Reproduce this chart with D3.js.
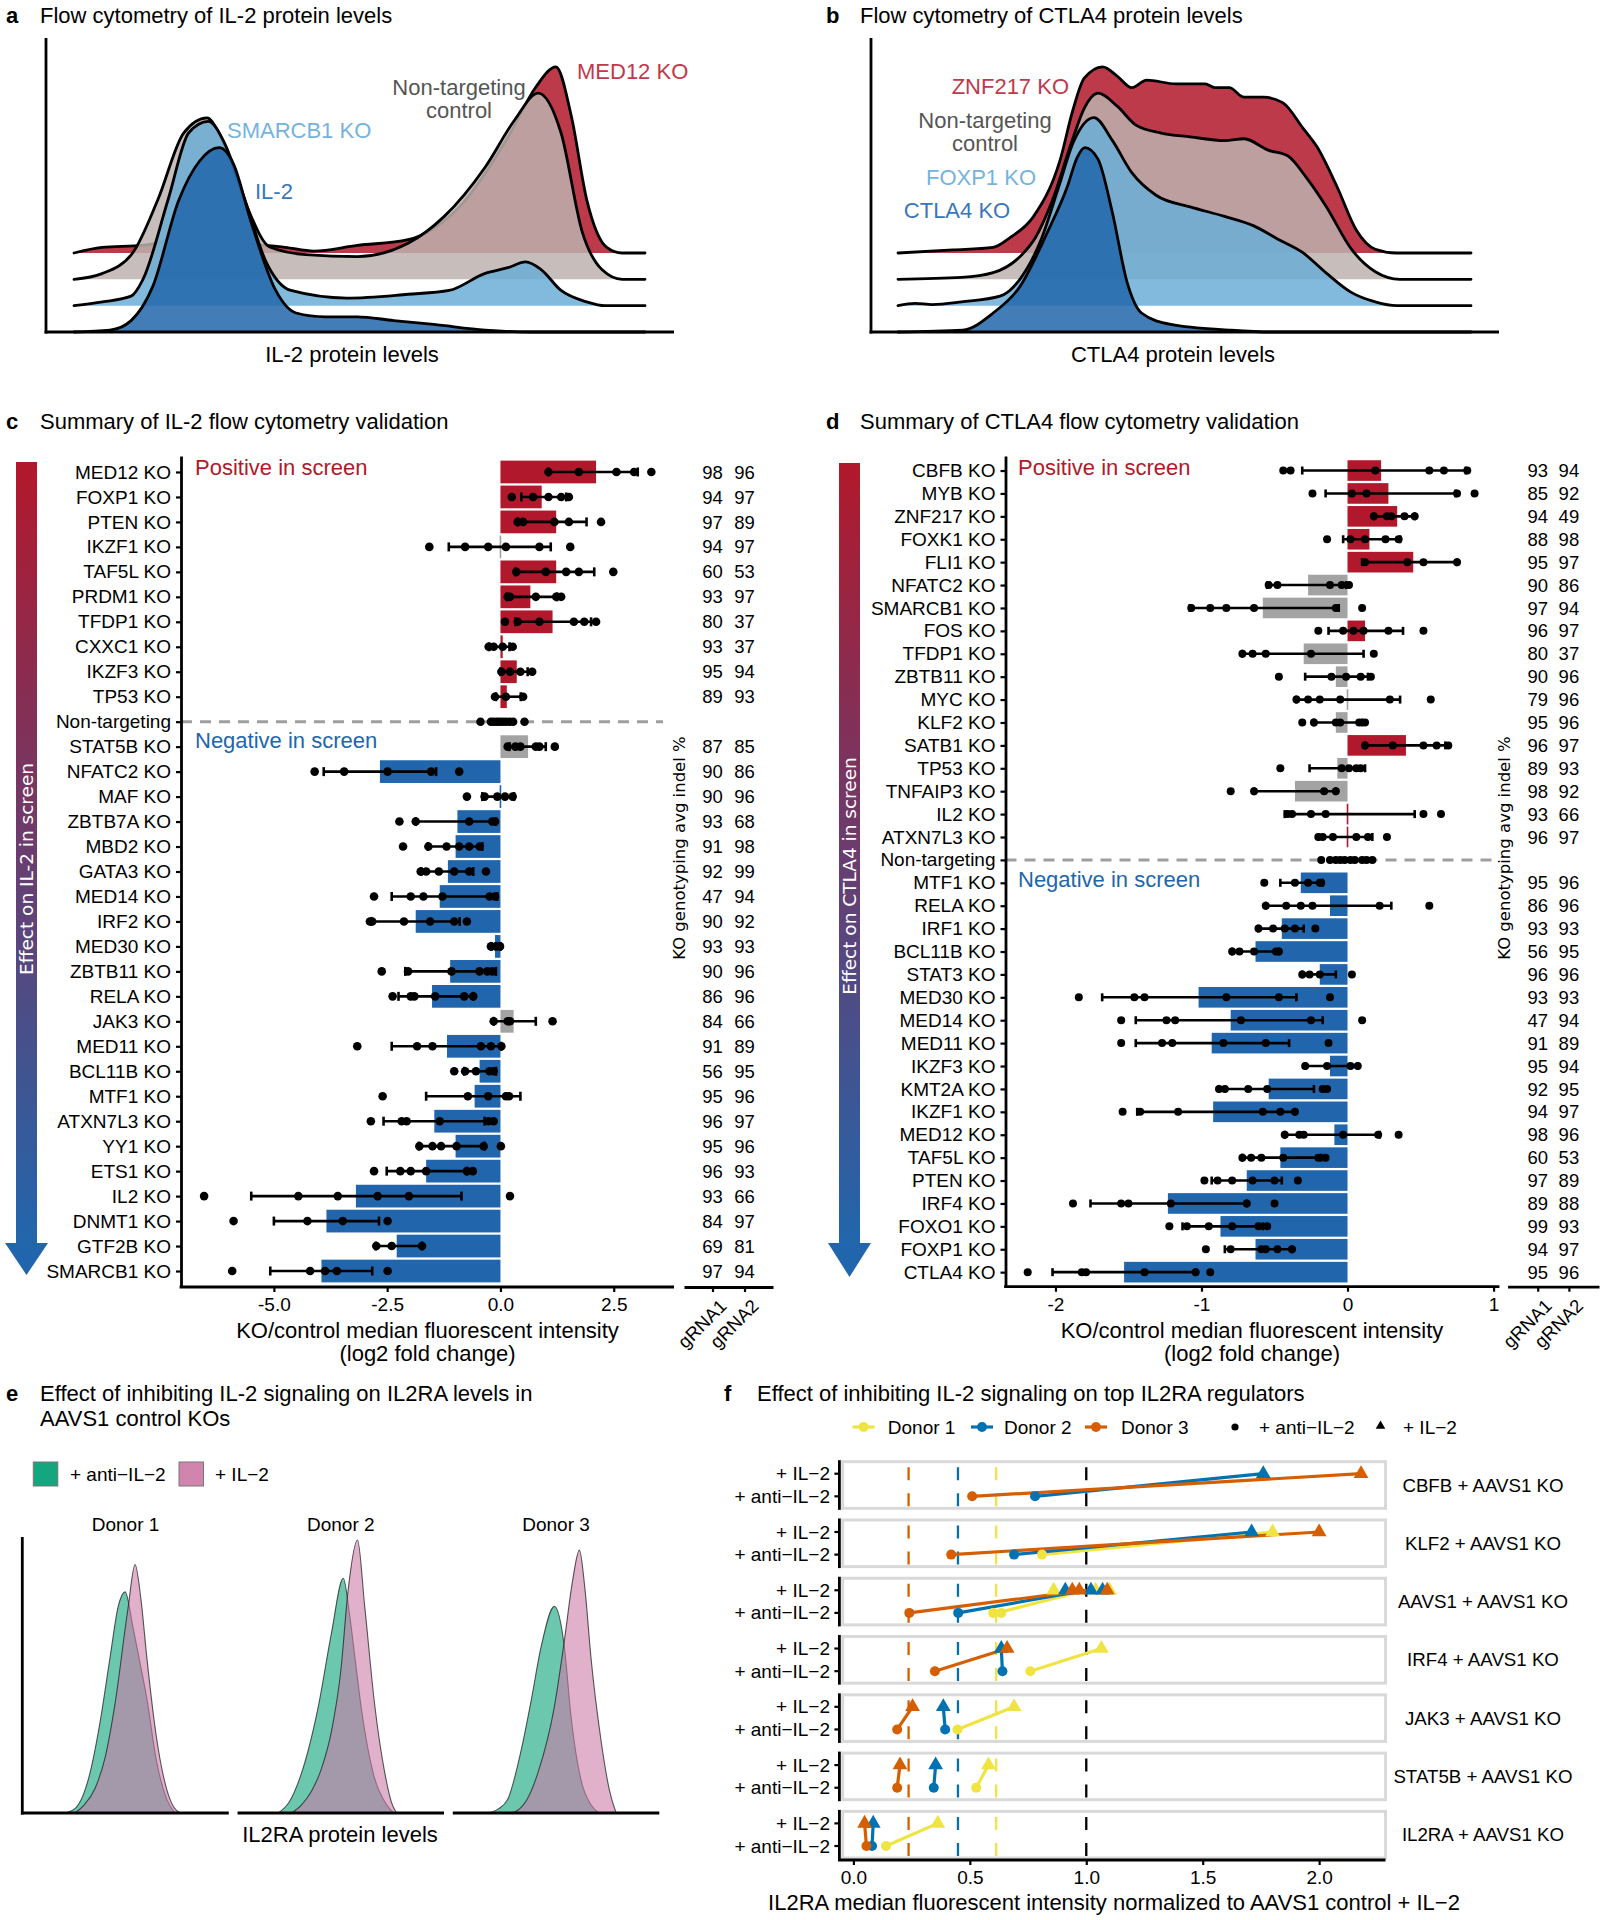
<!DOCTYPE html>
<html>
<head>
<meta charset="utf-8">
<script src="https://cdn.jsdelivr.net/npm/d3@7/dist/d3.min.js"></script>
<style>
html,body{margin:0;padding:0;background:#fff;}
svg{display:block;}
</style>
</head>
<body>
<svg id="fig" width="1603" height="1920" xmlns="http://www.w3.org/2000/svg"></svg>
<script>
// ================= DATA =================
// Panel a: ridgeline densities, [intensity (0-100), relative density]
const aNames = ["MED12 KO", "Non-targeting control", "SMARCB1 KO", "IL-2 KO"];
const aMED12 = [[0,0],[4.9,0.03],[12,0.04],[18,0.07],[23,0.08],[30,0.05],[37,0.03],[42,0.01],[49.6,0.04],[58.5,0.07],[67.4,0.24],[76.4,0.63],[80.8,0.87],[84.4,0.98],[87.1,0.72],[89.8,0.28],[93.3,0.03],[96,0],[100,0]];
const aNT = [[0,0],[4.9,0.03],[10.3,0.14],[14.7,0.42],[19.2,0.77],[23.3,0.85],[25.4,0.77],[29.9,0.41],[34.3,0.17],[40.6,0.13],[49.6,0.12],[58.5,0.19],[64.8,0.33],[72,0.59],[77.2,0.84],[81.3,0.98],[85.3,0.77],[89,0.25],[92.5,0.05],[96,0],[100,0]];
const aSMARCB1 = [[0,0],[5,0.02],[10,0.05],[12.1,0.14],[16.5,0.56],[20.1,0.91],[23.5,0.97],[26.3,0.86],[29.9,0.56],[33.5,0.24],[38,0.08],[47.8,0.04],[58.5,0.06],[65.7,0.08],[72,0.17],[76,0.2],[79.1,0.23],[81.8,0.19],[85.3,0.08],[89.8,0.02],[93,0],[100,0]];
const aIL2 = [[0,0],[6.3,0.01],[10,0.06],[13.8,0.24],[18.3,0.69],[22,0.9],[25.4,0.97],[28,0.88],[30.8,0.6],[35.3,0.22],[38.9,0.1],[44,0.08],[49.6,0.08],[56,0.06],[63,0.04],[72,0.01],[80,0],[100,0]];

// Panel b
const bNames = ["ZNF217 KO", "Non-targeting control", "FOXP1 KO", "CTLA4 KO"];
const bZNF217 = [[0,0],[9.6,0.016],[16.6,0.03],[19.5,0.08],[23.6,0.19],[28.3,0.49],[30.5,0.75],[32.5,0.92],[35.7,0.98],[38.3,0.93],[40.8,0.87],[43.4,0.91],[48.5,0.89],[53.6,0.89],[55.3,0.87],[57.8,0.87],[60.4,0.82],[63.8,0.82],[67.2,0.79],[70.6,0.66],[73.1,0.56],[76.6,0.35],[80,0.12],[83.3,0.02],[87,0],[100,0]];
const bNT = [[0,0],[11.1,0.01],[16.6,0.035],[21.3,0.12],[24,0.22],[27,0.42],[30.5,0.74],[32.5,0.9],[34.9,0.98],[38.3,0.91],[41.6,0.81],[45.9,0.77],[51,0.75],[57,0.73],[60.4,0.74],[64.6,0.68],[68,0.65],[71.4,0.53],[74.8,0.38],[79.1,0.16],[83.3,0.04],[87.6,0],[100,0]];
const bFOXP1 = [[0,0],[3,0.012],[6,0.006],[11.1,0.02],[17.8,0.05],[21.3,0.14],[25,0.35],[28,0.62],[30.6,0.86],[34.2,0.99],[37.4,0.87],[40.8,0.7],[45.1,0.58],[51,0.52],[57,0.47],[62.1,0.42],[66.3,0.35],[70.6,0.28],[74.8,0.17],[79.1,0.07],[83.3,0.02],[87,0],[100,0]];
const bCTLA4 = [[0,0],[11.3,0.01],[16.6,0.1],[21.3,0.24],[26,0.52],[29.5,0.76],[31.3,0.92],[32.6,0.97],[34.9,0.91],[37.4,0.63],[40,0.26],[42.5,0.1],[47.6,0.04],[57.8,0.01],[65,0],[100,0]];

// Panel c: IL-2 summary
const cGenes = ["MED12 KO","FOXP1 KO","PTEN KO","IKZF1 KO","TAF5L KO","PRDM1 KO","TFDP1 KO","CXXC1 KO","IKZF3 KO","TP53 KO","Non-targeting","STAT5B KO","NFATC2 KO","MAF KO","ZBTB7A KO","MBD2 KO","GATA3 KO","MED14 KO","IRF2 KO","MED30 KO","ZBTB11 KO","RELA KO","JAK3 KO","MED11 KO","BCL11B KO","MTF1 KO","ATXN7L3 KO","YY1 KO","ETS1 KO","IL2 KO","DNMT1 KO","GTF2B KO","SMARCB1 KO"];
const cMean = [2.11,0.91,1.23,-0.02,1.23,0.66,1.15,0.05,0.36,0.14,0,0.61,-2.66,-0.03,-0.95,-0.99,-1.16,-1.34,-1.87,-0.12,-1.11,-1.51,0.29,-1.18,-0.46,-0.57,-1.46,-0.99,-1.64,-3.19,-3.84,-2.29,-3.95];
const cLo = [1.06,0.46,0.38,-1.14,0.33,0.14,0.33,-0.25,0.0,-0.1,null,0.2,-3.9,-0.4,-1.87,-1.6,-1.75,-2.4,-2.85,-0.2,-2.1,-2.25,-0.15,-2.4,-0.8,-1.64,-2.58,-1.8,-2.51,-5.5,-5.0,-2.75,-5.08];
const cHi = [3.03,1.45,1.9,1.11,2.07,1.25,2.0,0.2,0.6,0.45,null,1.0,-1.42,0.3,-0.1,-0.4,-0.6,-0.07,-0.9,0.0,-0.1,-0.6,0.78,0.02,-0.1,0.44,-0.35,-0.35,-0.74,-0.86,-2.68,-1.73,-2.83];
const cPts = [[1.06,1.73,2.56,2.95,3.33],[0.25,0.72,1.06,1.34,1.51],[0.38,0.5,1.19,1.51,2.22],[-1.57,-0.78,-0.27,0.12,0.86,1.54],[0.35,1.0,1.45,1.73,2.49],[0.16,0.21,0.78,1.23,1.34],[0.1,0.38,0.86,1.62,1.85,2.11],[-0.26,-0.15,0.05,0.27],[0.02,0.21,0.44,0.7],[-0.12,0.12,0.5],[-0.44,-0.21,-0.15,-0.08,-0.02,0.05,0.12,0.2,0.28,0.53],[0.16,0.33,0.44,0.78,0.86,1.2],[-4.1,-3.45,-2.49,-1.53,-0.91],[-0.74,-0.35,-0.07,0.1,0.27],[-2.23,-1.87,-0.69,-0.18,-0.12],[-2.15,-1.59,-1.19,-0.91,-0.69,-0.46],[-1.76,-1.64,-1.36,-1.02,-0.69,-0.32],[-2.79,-1.98,-1.7,-1.28,-0.24,-0.12],[-2.88,-2.83,-2.13,-1.55,-1.02,-0.74],[-0.21,-0.1,-0.01],[-2.62,-2.04,-1.08,-0.46,-0.29,-0.18],[-2.38,-1.98,-1.9,-1.44,-0.8,-0.6],[-0.15,0.16,0.21,1.15],[-3.16,-1.84,-1.5,-0.43,-0.21,0.02],[-1.02,-0.78,-0.54,-0.24,-0.15],[-2.6,-0.72,-0.27,0.12,0.19],[-2.86,-2.18,-2.07,-1.34,-0.26,-0.15],[-1.79,-1.5,-1.31,-0.97,-0.37,0.01],[-2.79,-2.21,-1.98,-1.64,-0.74,-0.61],[-6.54,-4.46,-3.59,-2.71,-2.02,0.21],[-5.89,-4.26,-3.48,-2.49],[-2.74,-2.4,-1.73],[-5.92,-4.2,-3.87,-3.61,-2.49]];
const cStatus = ["pos","pos","pos","ns","pos","pos","pos","pos","pos","pos","none","ns","neg","neg","neg","neg","neg","neg","neg","neg","neg","neg","ns","neg","neg","neg","neg","neg","neg","neg","neg","neg","neg"];
const cInd1 = [98,94,97,94,60,93,80,93,95,89,null,87,90,90,93,91,92,47,90,93,90,86,84,91,56,95,96,95,96,93,84,69,97];
const cInd2 = [96,97,89,97,53,97,37,37,94,93,null,85,86,96,68,98,99,94,92,93,96,96,66,89,95,96,97,96,93,66,97,81,94];
const cTicks = [-5, -2.5, 0, 2.5];

// Panel d: CTLA4 summary
const dGenes = ["CBFB KO","MYB KO","ZNF217 KO","FOXK1 KO","FLI1 KO","NFATC2 KO","SMARCB1 KO","FOS KO","TFDP1 KO","ZBTB11 KO","MYC KO","KLF2 KO","SATB1 KO","TP53 KO","TNFAIP3 KO","IL2 KO","ATXN7L3 KO","Non-targeting","MTF1 KO","RELA KO","IRF1 KO","BCL11B KO","STAT3 KO","MED30 KO","MED14 KO","MED11 KO","IKZF3 KO","KMT2A KO","IKZF1 KO","MED12 KO","TAF5L KO","PTEN KO","IRF4 KO","FOXO1 KO","FOXP1 KO","CTLA4 KO"];
const dMean = [0.23,0.28,0.34,0.15,0.45,-0.27,-0.58,0.12,-0.3,-0.08,0.0,-0.08,0.4,-0.07,-0.36,0.01,0.0,0,-0.32,-0.12,-0.45,-0.63,-0.19,-1.02,-0.8,-0.93,-0.12,-0.54,-0.92,-0.09,-0.46,-0.69,-1.23,-0.87,-0.63,-1.53];
const dLo = [-0.31,-0.15,0.18,-0.03,0.1,-0.55,-1.08,-0.13,-0.72,-0.29,-0.35,-0.23,0.12,-0.26,-0.64,-0.43,-0.2,null,-0.46,-0.56,-0.61,-0.79,-0.31,-1.68,-1.45,-1.45,-0.29,-0.88,-1.44,-0.43,-0.72,-0.93,-1.76,-1.13,-0.84,-2.02];
const dHi = [0.81,0.74,0.46,0.36,0.75,-0.01,-0.06,0.38,0.11,0.14,0.36,0.1,0.67,0.12,-0.08,0.46,0.17,null,-0.17,0.3,-0.3,-0.47,-0.08,-0.35,-0.17,-0.4,0.07,-0.23,-0.36,0.22,-0.18,-0.45,-0.69,-0.58,-0.38,-1.04];
const dPts = [[-0.44,-0.39,0.19,0.56,0.66,0.82],[-0.24,0.03,0.13,0.75,0.87],[0.18,0.27,0.3,0.39,0.46],[-0.14,0.02,0.12,0.26,0.35],[0.12,0.41,0.52,0.75],[-0.54,-0.48,-0.12,-0.04,0.01],[-1.07,-0.94,-0.83,-0.64,-0.08,0.1],[-0.2,-0.03,0.04,0.11,0.28,0.52],[-0.72,-0.65,-0.56,-0.25,0.18],[-0.47,-0.11,-0.01,0.09,0.16],[-0.35,-0.27,-0.19,-0.05,0.29,0.57],[-0.31,-0.23,-0.08,-0.05,0.08,0.12],[0.12,0.31,0.52,0.61,0.69],[-0.46,-0.04,0.01,0.06,0.09],[-0.8,-0.64,-0.16,-0.08],[-0.41,-0.38,-0.25,-0.15,0.52,0.64],[-0.2,-0.17,-0.1,0.06,0.14,0.27],[-0.18,-0.12,-0.08,-0.05,-0.02,0.02,0.05,0.1,0.13,0.17],[-0.57,-0.36,-0.27,-0.19,-0.18],[-0.56,-0.42,-0.32,-0.24,0.22,0.56],[-0.61,-0.51,-0.43,-0.36,-0.22],[-0.79,-0.74,-0.64,-0.49,-0.47],[-0.31,-0.26,-0.19,0.03],[-1.84,-1.46,-1.39,-0.83,-0.47,-0.12],[-1.55,-1.24,-1.18,-0.73,-0.25,0.1],[-1.55,-1.27,-1.2,-0.85,-0.56,-0.13],[-0.29,-0.14,0.02,0.07],[-0.88,-0.84,-0.68,-0.55,-0.17,-0.14],[-1.54,-1.42,-1.16,-0.58,-0.46,-0.36],[-0.43,-0.33,-0.3,-0.03,0.21,0.35],[-0.72,-0.66,-0.59,-0.44,-0.2,-0.15],[-0.98,-0.89,-0.79,-0.65,-0.5,-0.34],[-1.88,-1.55,-1.5,-1.21,-0.69,-0.5],[-1.22,-1.1,-0.95,-0.79,-0.61,-0.55],[-0.97,-0.8,-0.59,-0.56,-0.48,-0.38],[-2.19,-1.82,-1.79,-1.39,-1.04,-0.94]];
const dStatus = ["pos","pos","pos","pos","pos","ns","ns","pos","ns","ns","ns","ns","pos","ns","ns","pos","pos","none","neg","neg","neg","neg","neg","neg","neg","neg","neg","neg","neg","neg","neg","neg","neg","neg","neg","neg"];
const dInd1 = [93,85,94,88,95,90,97,96,80,90,79,95,96,89,98,93,96,null,95,86,93,56,96,93,47,91,95,92,94,98,60,97,89,99,94,95];
const dInd2 = [94,92,49,98,97,86,94,97,37,96,96,96,97,93,92,66,97,null,96,96,93,95,96,93,94,89,94,95,97,96,53,89,88,93,97,96];
const dTicks = [-2, -1, 0, 1];

// Panel e: IL2RA densities per donor, [intensity (0-100), relative density]
const eDonors = ["Donor 1", "Donor 2", "Donor 3"];
const eConds = ["+ anti\u2212IL\u22122", "+ IL\u22122"];
const eAnti = [
  [[20.7,0],[26,0.02],[32.8,0.147],[37.6,0.33],[42.5,0.57],[46.4,0.755],[49.8,0.81],[53.6,0.68],[57,0.55],[60.3,0.42],[65,0.19],[70,0.05],[74,0]],
  [[19.7,0],[25,0.04],[31,0.147],[39.1,0.39],[45.5,0.66],[51.2,0.86],[54.2,0.73],[57,0.56],[60,0.38],[65.9,0.14],[72.2,0.03],[75.5,0]],
  [[16.9,0],[22,0.015],[26.6,0.05],[33.1,0.23],[37.9,0.41],[42.8,0.61],[49.2,0.757],[54,0.61],[57.3,0.35],[62.1,0.12],[66.9,0.03],[70.8,0]]
];
const eIL2 = [
  [[25.5,0],[30,0.03],[35.2,0.09],[40,0.2],[44.9,0.4],[51.2,0.75],[54.6,0.91],[57.5,0.78],[60.3,0.57],[65.1,0.27],[70,0.085],[73.5,0.02],[76.4,0]],
  [[26.2,0],[31,0.03],[35.8,0.08],[40.5,0.16],[45.5,0.3],[50,0.52],[53.6,0.82],[58.1,1.0],[61.6,0.755],[66.5,0.39],[71.3,0.147],[74.5,0.04],[77,0]],
  [[28.2,0],[31.5,0.01],[36,0.05],[41.2,0.147],[49.2,0.39],[54,0.63],[58,0.85],[61.3,0.963],[64,0.82],[66.9,0.57],[71.7,0.27],[75.8,0.085],[79.1,0]]
];

// Panel f: normalized IL2RA MFI; per gene, per donor [Donor1, Donor2, Donor3]
const fGenes = ["CBFB + AAVS1 KO","KLF2 + AAVS1 KO","AAVS1 + AAVS1 KO","IRF4 + AAVS1 KO","JAK3 + AAVS1 KO","STAT5B + AAVS1 KO","IL2RA + AAVS1 KO"];
const fDonors = ["Donor 1", "Donor 2", "Donor 3"];
const fConds = ["+ IL\u22122", "+ anti\u2212IL\u22122"];
const fAnti = [
  [[], [0.78], [0.51]],
  [[0.81], [0.69], [0.42]],
  [[0.60, 0.635], [0.45], [0.24]],
  [[0.76], [0.64], [0.35]],
  [[0.447], [0.394], [0.188]],
  [[0.527], [0.345], [0.188]],
  [[0.14], [0.08], [0.056]]
];
const fIL2 = [
  [[], [1.76], [2.18]],
  [[1.80], [1.71], [2.0]],
  [[0.86, 1.04, 1.10], [0.91, 1.02, 1.07], [0.94, 0.97, 1.09]],
  [[1.065], [0.635], [0.66]],
  [[0.69], [0.386], [0.254]],
  [[0.58], [0.353], [0.2]],
  [[0.362], [0.085], [0.048]]
];
const fRefDonor = [0.613, 0.449, 0.237];
const fRefAll = 1.0;
const fTicks = [0, 0.5, 1, 1.5, 2];

// ================= DRAWING =================
const FONT = '"Liberation Sans", Arial, Helvetica, sans-serif';
const svg = d3.select("#fig").attr("font-family", FONT);
const defs = svg.append("defs");
const RED = "#B2182B", BLUE = "#2166AC", GREY = "#A3A3A3";

function addText(x, y, s, size, o = {}) {
  const t = svg.append("text").attr("x", x).attr("y", y).attr("font-size", size).attr("fill", o.fill || "#000").text(s);
  if (o.anchor) t.attr("text-anchor", o.anchor);
  if (o.weight) t.attr("font-weight", o.weight);
  if (o.family) t.attr("font-family", o.family);
  if (o.transform) t.attr("transform", o.transform);
  if (o.dy) t.attr("dy", o.dy);
  return t;
}
function hline(x1, x2, y, w = 2.8, c = "#000") {
  return svg.append("line").attr("x1", x1).attr("x2", x2).attr("y1", y).attr("y2", y).attr("stroke", c).attr("stroke-width", w);
}
function vline(x, y1, y2, w = 2.8, c = "#000") {
  return svg.append("line").attr("x1", x).attr("x2", x).attr("y1", y1).attr("y2", y2).attr("stroke", c).attr("stroke-width", w);
}
function styleAxis(sel, fs) {
  sel.attr("font-family", FONT).attr("font-size", fs);
  sel.select(".domain").attr("stroke", "#000").attr("stroke-width", 2.8);
  sel.selectAll(".tick line").attr("stroke", "#000").attr("stroke-width", 2.2);
  sel.selectAll(".tick text").attr("fill", "#000");
}

// Titles
addText(6, 23, "a", 22, {weight: "bold"});
addText(40, 23, "Flow cytometry of IL-2 protein levels", 22);
addText(826, 23, "b", 22, {weight: "bold"});
addText(860, 23, "Flow cytometry of CTLA4 protein levels", 22);
addText(6, 429, "c", 22, {weight: "bold"});
addText(40, 429, "Summary of IL-2 flow cytometry validation", 22);
addText(826, 429, "d", 22, {weight: "bold"});
addText(860, 429, "Summary of CTLA4 flow cytometry validation", 22);
addText(6, 1401, "e", 22, {weight: "bold"});
addText(40, 1401, "Effect of inhibiting IL-2 signaling on IL2RA levels in", 22);
addText(40, 1426, "AAVS1 control KOs", 22);
addText(724, 1401, "f", 22, {weight: "bold"});
addText(757, 1401, "Effect of inhibiting IL-2 signaling on top IL2RA regulators", 22);

// ---------- Ridge panels ----------
function drawRidges(o) {
  const g = svg.append("g");
  const x = d3.scaleLinear().domain([0, 100]).range(o.xr);
  const y = d3.scalePoint().domain(o.names).range(o.yr);
  const h = d3.scaleLinear().domain([0, 1]).range([0, 190]);
  o.curves.forEach((c, i) => {
    const b = y(o.names[i]);
    const area = d3.area().x(d => x(d[0])).y0(b).y1(d => b - h(d[1])).curve(d3.curveMonotoneX);
    const line = d3.line().x(d => x(d[0])).y(d => b - h(d[1])).curve(d3.curveMonotoneX);
    g.append("path").attr("d", area(c)).attr("fill", o.colors[i]).attr("fill-opacity", 0.85);
    g.append("path").attr("d", line(c)).attr("fill", "none").attr("stroke", "#000")
      .attr("stroke-width", 2.8).attr("stroke-linejoin", "round").attr("stroke-linecap", "round");
  });
  vline(o.ax, 38, o.yr[1] + 1.4);
  hline(o.ax - 1.4, o.axEnd, o.yr[1]);
}
const ridgeColors = [RED, "#BDB2AF", "#6BAED6", BLUE];
drawRidges({names: aNames, curves: [aMED12, aNT, aSMARCB1, aIL2], colors: ridgeColors, xr: [74, 645], yr: [253, 332], ax: 46, axEnd: 674});
drawRidges({names: bNames, curves: [bZNF217, bNT, bFOXP1, bCTLA4], colors: ridgeColors, xr: [898, 1471], yr: [253, 332], ax: 871, axEnd: 1499});

const cRedL = "#C0394B", cGreyL = "#555555", cLBlue = "#74B3DD", cDBlue = "#3A76B8";
addText(577, 79, "MED12 KO", 22, {fill: cRedL});
addText(459, 95, "Non-targeting", 22, {fill: cGreyL, anchor: "middle"});
addText(459, 118, "control", 22, {fill: cGreyL, anchor: "middle"});
addText(227, 138, "SMARCB1 KO", 22, {fill: cLBlue});
addText(255, 199, "IL-2", 22, {fill: cDBlue});
addText(352, 362, "IL-2 protein levels", 22, {anchor: "middle"});

addText(1069, 94, "ZNF217 KO", 22, {fill: cRedL, anchor: "end"});
addText(985, 128, "Non-targeting", 22, {fill: cGreyL, anchor: "middle"});
addText(985, 151, "control", 22, {fill: cGreyL, anchor: "middle"});
addText(981, 185, "FOXP1 KO", 22, {fill: cLBlue, anchor: "middle"});
addText(957, 218, "CTLA4 KO", 22, {fill: cDBlue, anchor: "middle"});
addText(1173, 362, "CTLA4 protein levels", 22, {anchor: "middle"});

// ---------- Summary panels ----------
function drawSummary(o) {
  const g = svg.append("g");
  const x = d3.scaleLinear().domain(o.xDomain).range(o.xRange);
  const y = d3.scalePoint().domain(o.genes).range(o.yRange).padding(o.yPad);
  const bh = y.step() * o.barFrac;
  const col = {pos: RED, neg: BLUE, ns: GREY};
  o.genes.forEach((gn, i) => {
    if (o.status[i] === "none") return;
    const x0 = x(0), x1 = x(o.mean[i]);
    const w = Math.abs(x1 - x0);
    g.append("rect")
      .attr("x", w < 1.6 ? x0 - 0.8 : Math.min(x0, x1))
      .attr("width", Math.max(1.6, w))
      .attr("y", y(gn) - bh / 2).attr("height", bh)
      .attr("fill", col[o.status[i]]);
  });
  const yNT = y(o.ntName);
  g.append("line").attr("x1", o.xRange[0]).attr("x2", o.dashEnd).attr("y1", yNT).attr("y2", yNT)
    .attr("stroke", "#9E9E9E").attr("stroke-width", 3).attr("stroke-dasharray", "11,8");
  o.genes.forEach((gn, i) => {
    if (o.lo[i] == null) return;
    const yy = y(gn);
    g.append("line").attr("x1", x(o.lo[i])).attr("x2", x(o.hi[i])).attr("y1", yy).attr("y2", yy)
      .attr("stroke", "#000").attr("stroke-width", 2.6);
    [o.lo[i], o.hi[i]].forEach(v => g.append("line").attr("x1", x(v)).attr("x2", x(v))
      .attr("y1", yy - o.cap).attr("y2", yy + o.cap).attr("stroke", "#000").attr("stroke-width", 2.6));
  });
  o.genes.forEach((gn, i) => {
    o.pts[i].forEach(v => g.append("circle").attr("cx", x(v)).attr("cy", y(gn)).attr("r", o.r).attr("fill", "#000"));
  });
  const ya = g.append("g").attr("transform", `translate(${o.xRange[0]},0)`)
    .call(d3.axisLeft(y).tickSize(5).tickSizeOuter(0).tickPadding(5));
  styleAxis(ya, 19);
  const xa = g.append("g").attr("transform", `translate(0,${o.yRange[1]})`)
    .call(d3.axisBottom(x).tickValues(o.ticks).tickFormat(o.fmt).tickSize(5).tickSizeOuter(0).tickPadding(6));
  styleAxis(xa, 19);
  xa.select(".domain").attr("d", `M${o.xRange[0] - 1.4},0H${o.xRange[1]}`);
  const ix = d3.scalePoint().domain(["gRNA1", "gRNA2"]).range(o.indRange).padding(o.indPad);
  o.genes.forEach((gn, i) => {
    if (o.ind1[i] == null) return;
    g.append("text").attr("x", ix("gRNA1")).attr("y", y(gn) + 6.6).attr("text-anchor", "middle").attr("font-size", 18.5).text(o.ind1[i]);
    g.append("text").attr("x", ix("gRNA2")).attr("y", y(gn) + 6.6).attr("text-anchor", "middle").attr("font-size", 18.5).text(o.ind2[i]);
  });
  const ia = g.append("g").attr("transform", `translate(0,${o.yRange[1]})`)
    .call(d3.axisBottom(ix).tickSize(5).tickSizeOuter(0));
  styleAxis(ia, 18.5);
  ia.selectAll(".tick text").remove();
  ["gRNA1", "gRNA2"].forEach(k => {
    addText(0, 0, k, 18.5, {anchor: "end", dy: "0.71em", transform: `translate(${ix(k) + 6},${o.yRange[1] + 11}) rotate(-45)`});
  });
  return {x, y};
}

drawSummary({genes: cGenes, mean: cMean, lo: cLo, hi: cHi, pts: cPts, status: cStatus, ind1: cInd1, ind2: cInd2,
  xDomain: [-7.05, 3.83], xRange: [181, 674], yRange: [456, 1287], yPad: 0.64, barFrac: 0.91,
  ticks: cTicks, fmt: d => d.toFixed(1), indRange: [684, 773], indPad: 0.89, ntName: "Non-targeting", dashEnd: 663, cap: 4.5, r: 4.3});
drawSummary({genes: dGenes, mean: dMean, lo: dLo, hi: dHi, pts: dPts, status: dStatus, ind1: dInd1, ind2: dInd2,
  xDomain: [-2.342, 1.04], xRange: [1005.5, 1499.4], yRange: [456, 1286.7], yPad: 0.635, barFrac: 0.9,
  ticks: dTicks, fmt: d => String(d), indRange: [1507.6, 1599], indPad: 0.965, ntName: "Non-targeting", dashEnd: 1492, cap: 4, r: 4});

addText(195, 475, "Positive in screen", 22, {fill: RED});
addText(195, 748, "Negative in screen", 22, {fill: BLUE});
addText(1018, 475, "Positive in screen", 22, {fill: RED});
addText(1018, 887, "Negative in screen", 22, {fill: BLUE});
addText(427.5, 1338, "KO/control median fluorescent intensity", 22, {anchor: "middle"});
addText(427.5, 1361, "(log2 fold change)", 22, {anchor: "middle"});
addText(1252, 1338, "KO/control median fluorescent intensity", 22, {anchor: "middle"});
addText(1252, 1361, "(log2 fold change)", 22, {anchor: "middle"});
addText(0, 0, "KO genotyping avg indel %", 16.5, {family: "DejaVu Sans", anchor: "middle", dy: "0.35em", transform: "translate(679,848) rotate(-90)"});
addText(0, 0, "KO genotyping avg indel %", 16.5, {family: "DejaVu Sans", anchor: "middle", dy: "0.35em", transform: "translate(1504,848) rotate(-90)"});

function drawArrow(id, cx, top, headBase, tip, barW, headW, label, labelY) {
  const grad = defs.append("linearGradient").attr("id", id).attr("x1", 0).attr("y1", 0).attr("x2", 0).attr("y2", 1);
  grad.append("stop").attr("offset", 0).attr("stop-color", RED);
  grad.append("stop").attr("offset", 0.5).attr("stop-color", "#6A3D6E");
  grad.append("stop").attr("offset", 1).attr("stop-color", BLUE);
  svg.append("rect").attr("x", cx - barW / 2).attr("y", top).attr("width", barW).attr("height", headBase - top + 1).attr("fill", `url(#${id})`);
  svg.append("path").attr("d", `M${cx - headW / 2},${headBase}L${cx + headW / 2},${headBase}L${cx},${tip}Z`).attr("fill", BLUE);
  addText(0, 0, label, 18.5, {family: "DejaVu Sans", fill: "#fff", anchor: "middle", dy: "0.36em", transform: `translate(${cx},${labelY}) rotate(-90)`});
}
drawArrow("gradC", 26.5, 462, 1243, 1275, 21, 43, "Effect on IL-2 in screen", 869);
drawArrow("gradD", 849.5, 463, 1243, 1277, 21, 43, "Effect on CTLA4 in screen", 876);

// ---------- Panel e ----------
(function () {
  const band = d3.scaleBand().domain(eDonors).range([22.3, 659.3]).paddingInner(0.0407);
  const base = 1813;
  const hs = d3.scaleLinear().domain([0, 1]).range([base, base - 273]);
  const fills = ["#009E73", "#CC79A7"];
  eDonors.forEach((dn, i) => {
    const x = d3.scaleLinear().domain([0, 100]).range([band(dn), band(dn) + band.bandwidth()]);
    [eAnti[i], eIL2[i]].forEach((c, k) => {
      const area = d3.area().x(d => x(d[0])).y0(base).y1(d => hs(d[1])).curve(d3.curveMonotoneX);
      svg.append("path").attr("d", area(c)).attr("fill", fills[k]).attr("fill-opacity", 0.58)
        .attr("stroke", "#222").attr("stroke-opacity", 0.75).attr("stroke-width", 1.1);
    });
    hline(band(dn) - (i === 0 ? 1.4 : 0), band(dn) + band.bandwidth(), base);
    addText(band(dn) + band.bandwidth() / 2, 1531, dn, 19, {anchor: "middle"});
  });
  vline(22.3, 1537, base + 1.4);
  addText(340, 1842, "IL2RA protein levels", 22, {anchor: "middle"});
  const lx = [33.3, 179];
  const tx = [70, 215];
  eConds.forEach((c, k) => {
    svg.append("rect").attr("x", lx[k]).attr("y", 1462).attr("width", 24.5).attr("height", 24)
      .attr("fill", fills[k]).attr("fill-opacity", 0.92).attr("stroke", "#777").attr("stroke-width", 1);
    addText(tx[k], 1481, c, 19);
  });
})();

// ---------- Panel f ----------
(function () {
  const x = d3.scaleLinear().domain([-0.046, 2.285]).range([842.7, 1385.5]);
  const band = d3.scaleBand().domain(fGenes).range([1461.7, 1858]).paddingInner(0.2);
  const bw = band.bandwidth();
  const cy = d3.scalePoint().domain(fConds).range([0, bw]).padding(0.53);
  const colors = ["#F0E442", "#0072B2", "#D55E00"];
  const axX = 839.4;
  const tri = d3.symbol().type(d3.symbolTriangle).size(95);
  fGenes.forEach((gn, i) => {
    const top = band(gn);
    svg.append("rect").attr("x", 842.7).attr("y", top).attr("width", 1385.5 - 842.7).attr("height", bw)
      .attr("fill", "#fff").attr("stroke", "#D9D9D9").attr("stroke-width", 3);
    fRefDonor.forEach((v, k) => {
      svg.append("line").attr("x1", x(v)).attr("x2", x(v)).attr("y1", top + 1.5).attr("y2", top + bw - 1.5)
        .attr("stroke", colors[k]).attr("stroke-width", 2.3).attr("stroke-dasharray", "13,13").attr("stroke-dashoffset", -4);
    });
    svg.append("line").attr("x1", x(fRefAll)).attr("x2", x(fRefAll)).attr("y1", top + 1.5).attr("y2", top + bw - 1.5)
      .attr("stroke", "#000").attr("stroke-width", 2.3).attr("stroke-dasharray", "13,13").attr("stroke-dashoffset", -4);
    const yA = top + cy(fConds[1]), yI = top + cy(fConds[0]);
    fDonors.forEach((dn, k) => {
      const a = fAnti[i][k], b = fIL2[i][k];
      if (!a.length) return;
      svg.append("line").attr("x1", x(d3.mean(a))).attr("x2", x(d3.mean(b))).attr("y1", yA).attr("y2", yI)
        .attr("stroke", colors[k]).attr("stroke-width", 3.2);
    });
    fDonors.forEach((dn, k) => {
      fAnti[i][k].forEach(v => svg.append("circle").attr("cx", x(v)).attr("cy", yA).attr("r", 5).attr("fill", colors[k]));
      fIL2[i][k].forEach(v => svg.append("path").attr("d", tri()).attr("transform", `translate(${x(v)},${yI})`).attr("fill", colors[k]));
    });
    vline(axX, top - 1.5, top + bw + 1.5);
    fConds.forEach(c => {
      hline(axX - 5, axX, top + cy(c), 2.2);
      addText(830, top + cy(c) + 6.6, c, 19, {anchor: "end"});
    });
    addText(1483, top + bw / 2 + 6.6, gn, 18.7, {anchor: "middle"});
  });
  const xa = svg.append("g").attr("transform", "translate(0,1860)")
    .call(d3.axisBottom(x).tickValues(fTicks).tickFormat(d => d.toFixed(1)).tickSize(5).tickSizeOuter(0).tickPadding(6));
  styleAxis(xa, 19);
  xa.select(".domain").attr("d", `M${axX - 1.4},0H1385.5`);
  addText(1114, 1910, "IL2RA median fluorescent intensity normalized to AAVS1 control + IL\u22122", 22, {anchor: "middle"});
  const legY = 1427;
  const iconX = [863.6, 982, 1096];
  const textX = [887.8, 1004, 1121];
  fDonors.forEach((dn, k) => {
    hline(iconX[k] - 11, iconX[k] + 11, legY, 3.2, colors[k]);
    svg.append("circle").attr("cx", iconX[k]).attr("cy", legY).attr("r", 5).attr("fill", colors[k]);
    addText(textX[k], legY + 6.6, dn, 19);
  });
  svg.append("circle").attr("cx", 1235).attr("cy", legY).attr("r", 3.6).attr("fill", "#000");
  addText(1259, legY + 6.6, "+ anti\u2212IL\u22122", 19);
  svg.append("path").attr("d", d3.symbol().type(d3.symbolTriangle).size(40)()).attr("transform", `translate(1380.5,${legY - 1})`).attr("fill", "#000");
  addText(1403, legY + 6.6, "+ IL\u22122", 19);
})();
</script>
</body>
</html>
